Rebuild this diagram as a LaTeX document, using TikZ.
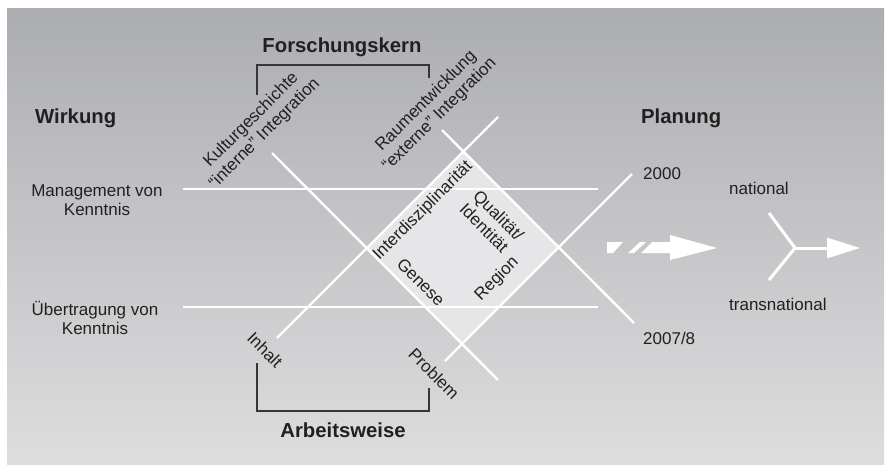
\documentclass[tikz,border=0pt]{standalone}
\usepackage{fontspec}
\setmainfont{Liberation Sans}
\usetikzlibrary{positioning,arrows.meta}
\definecolor{bgtop}{RGB}{172,173,177}
\definecolor{bgbot}{RGB}{221,221,222}
\definecolor{feld}{RGB}{230,230,232}
\definecolor{ink}{RGB}{35,31,32}

\begin{document}
\begin{tikzpicture}[x=1pt, y=-1pt,
    txt/.style={font=\fontsize{17}{19}\selectfont, text=ink, inner sep=0pt, align=center},
    head/.style={font=\fontsize{20.3}{24}\selectfont\bfseries, text=ink, inner sep=0pt},
    achse/.style={draw=white, line width=2.4pt},
    klammer/.style={draw=ink!90, line width=1.6pt},
    pfeil/.style={fill=white}]
  \useasboundingbox (0,0) rectangle (889,464);
  \fill[white] (0,0) rectangle (889,464);
  \shade[top color=bgtop, bottom color=bgbot] (7,8) rectangle (884,464);

  % Feld in der Mitte
  \coordinate (ob) at (463.5,151.5);
  \coordinate (re) at (559,247);
  \coordinate (un) at (462.5,343.5);
  \coordinate (li) at (367,248);
  \fill[feld] (ob) -- (re) -- (un) -- (li) -- cycle;

  % Achsen
  \coordinate (m1) at (183,189);  \coordinate (m2) at (598,189);
  \coordinate (u1) at (183,307);  \coordinate (u2) at (598,307);
  \coordinate (k1) at (272,153);  \coordinate (k2) at (498,380);
  \coordinate (r1) at (442,130);  \coordinate (r2) at (634,323);
  \coordinate (i1) at (277,338);  \coordinate (i2) at (498,117);
  \coordinate (p1) at (445,361);  \coordinate (p2) at (632,174);
  \path[achse] (m1) edge (m2) (u1) edge (u2)
    (k1) edge (k2) (r1) edge (r2)
    (i1) edge (i2) (p1) edge (p2);

  % Klammern
  \draw[klammer] (257,95) |- (429,65) -- (429,78);
  \draw[klammer] (257,363) |- (429,411) -- (429,388);

  % Texte
  \node[head] (fk) at (342,47) {Forschungskern};
  \node[head] (aw) at (343,430) {Arbeitsweise};
  \node[head, anchor=west] (wi) at (35,118) {Wirkung};
  \node[head, anchor=west] (pl) at (641,118) {Planung};
  \node[txt] (mk) at (97,200) {Management von\\Kenntnis};
  \node[txt] (uk) at (95,318) {Übertragung von\\Kenntnis};
  \node[txt, anchor=west] (j1) at (643,174) {2000};
  \node[txt, anchor=west] (j2) at (643,338) {2007/8};
  \node[txt, anchor=west] (na) at (729,188) {national};
  \node[txt, anchor=west] (tn) at (729,304) {transnational};
  \node[txt, rotate=45] (kg) at (258,127) {Kulturgeschichte\\“interne” Integration};
  \node[txt, rotate=45] (ra) at (433,108) {Raumentwicklung\\“externe” Integration};
  \node[txt, rotate=45] (id) at (423,211) {Interdisziplinarität};
  \node[txt, rotate=-45, align=left] (qu) at (492,222) {Qualität/\\Identität};
  \node[txt, rotate=-45] (ge) at (421,282) {Genese};
  \node[txt, rotate=45] (rg) at (497,279) {Region};
  \node[txt, rotate=-45] (ih) at (265,350) {Inhalt};
  \node[txt, rotate=-45] (pr) at (434,374) {Problem};

  % Pfeile rechts
  \fill[pfeil] (607,242) -- (623,242) -- (613,253) -- (607,253) -- cycle;
  \fill[pfeil] (640,242) -- (646,242) -- (634,253) -- (628,253) -- cycle;
  \fill[pfeil] (652,242) -- (670,242) -- (670,235) -- (717,248)
    -- (670,260) -- (670,253) -- (641,253) -- cycle;
  \coordinate (g1) at (769,213);
  \coordinate (g2) at (769,280);
  \coordinate (gabel) at (795,248);
  \coordinate (ziel) at (860,248);
  \draw[white, line width=3pt] (g1) -- (gabel) -- (g2);
  \draw[white, line width=3pt, -{Triangle[length=33pt,width=20pt]}] (gabel) -- (ziel);
\end{tikzpicture}
\end{document}
